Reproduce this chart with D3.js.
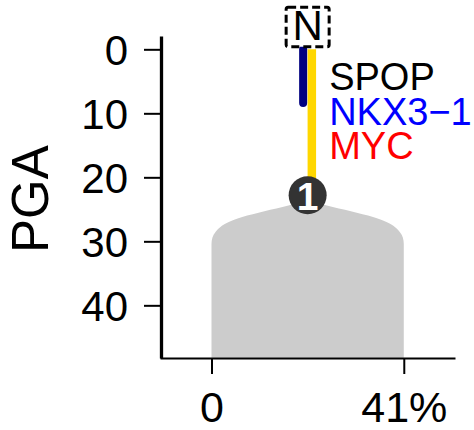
<!DOCTYPE html>
<html>
<head>
<meta charset="utf-8">
<script src="https://cdn.jsdelivr.net/npm/d3@7"></script>
<style>
  html, body { margin: 0; padding: 0; background: #fff; }
  svg { display: block; font-family: "Liberation Sans", Arial, sans-serif; }
</style>
</head>
<body>
<svg id="chart" width="474" height="430"></svg>
<script>
// ---- data ----
const yTicks = [0, 10, 20, 30, 40];
const xTicks = [0, 41];
const yLabel = "PGA";
// Gray density profile: PGA level and relative width (0..1)
const profilePGA   = [23.6, 24.4, 25.3, 26.2, 27.0, 27.8, 28.6, 29.4, 30.4, 35, 48.2];
const profileWidth = [0.00, 0.20, 0.45, 0.68, 0.82, 0.91, 0.96, 0.99, 1.00, 1.00, 1.00];
const profileRange = [0, 41];            // percent extent of the shape
// Driver event lines (PGA start / end)
const trunkGenes  = ["SPOP", "NKX3\u22121", "MYC"];
const geneColors  = ["#000000", "#0000ff", "#ff0000"];
const spopLine    = [0, 8.4];
const trunkLine   = [0, 22.8];
const cloneLabel  = "1";
const clonePGA    = 22.8;
const rootLabel   = "N";

// ---- layout ----
const svg = d3.select("#chart");
const y = d3.scaleLinear().domain([-2.08, 48.23]).range([36, 358]);
const x = d3.scaleLinear().domain([-10.98, 51.92]).range([160, 455]);
const font = "Liberation Sans, Arial, sans-serif";

// gray shape
const center = (profileRange[0] + profileRange[1]) / 2;
const half = (profileRange[1] - profileRange[0]) / 2;
const prof = profilePGA.map((p, i) => ({p, w: profileWidth[i]}));
const area = d3.area()
  .y(d => y(d.p))
  .x0(d => x(center - half * d.w))
  .x1(d => x(center + half * d.w))
  .curve(d3.curveMonotoneY);
svg.append("path").datum(prof).attr("d", area).attr("fill", "#cccccc");

// axes
const yAxis = svg.append("g").attr("transform", `translate(${x.range()[0] + 1},0)`)
  .call(d3.axisLeft(y).tickValues(yTicks).tickSize(17).tickSizeOuter(0).tickPadding(16));
yAxis.select(".domain").attr("stroke-width", 3.3);
yAxis.selectAll(".tick line").attr("stroke-width", 2);
yAxis.selectAll(".tick text").attr("font-size", 42).attr("font-family", font).attr("fill", "#000").attr("dy", "0.36em");

const xAxis = svg.append("g").attr("transform", `translate(0,${y.range()[1]})`)
  .call(d3.axisBottom(x).tickValues(xTicks).tickSize(16).tickSizeOuter(0).tickPadding(17)
    .tickFormat(d => d === 0 ? "0" : d + "%"));
xAxis.select(".domain").attr("stroke-width", 2);
xAxis.selectAll(".tick line").attr("stroke-width", 2);
xAxis.selectAll(".tick text").attr("font-size", 43).attr("font-family", font).attr("fill", "#000").attr("dy", "0.72em");

// y label
svg.append("text")
  .attr("transform", `translate(48,${y(23.4)}) rotate(-90)`)
  .attr("text-anchor", "middle")
  .attr("font-size", 51).attr("font-family", font)
  .text(yLabel);

// trunk lines
const cx = x(center);
svg.append("line")
  .attr("x1", cx + 4.2).attr("x2", cx + 4.2)
  .attr("y1", y(trunkLine[0])).attr("y2", y(trunkLine[1]))
  .attr("stroke", "#ffd700").attr("stroke-width", 8.5);
svg.append("line")
  .attr("x1", cx - 4.5).attr("x2", cx - 4.5)
  .attr("y1", y(spopLine[0])).attr("y2", y(spopLine[1]))
  .attr("stroke", "#000080").attr("stroke-width", 8).attr("stroke-linecap", "round");

// clone node
svg.append("circle").attr("cx", cx).attr("cy", y(clonePGA)).attr("r", 19).attr("fill", "#333333");
svg.append("text").attr("x", cx).attr("y", y(clonePGA) + 15)
  .attr("text-anchor", "middle").attr("font-size", 39).attr("font-family", font)
  .attr("font-weight", "bold")
  .attr("fill", "#fff").text(cloneLabel);

// root box
svg.append("rect")
  .attr("x", cx - 21.5).attr("y", y(0) - 42).attr("width", 43).attr("height", 39.5)
  .attr("fill", "#fff").attr("stroke", "#000").attr("stroke-width", 3)
  .attr("stroke-dasharray", "8,4").attr("rx", 2);
svg.append("text").attr("x", cx).attr("y", y(0) - 9)
  .attr("text-anchor", "middle").attr("font-size", 42).attr("font-family", font)
  .text(rootLabel);

// gene labels
svg.selectAll("text.gene").data(trunkGenes).enter().append("text")
  .attr("class", "gene")
  .attr("x", cx + 21.5)
  .attr("y", (d, i) => 90 + i * 34.7)
  .attr("font-size", 38).attr("font-family", font)
  .attr("fill", (d, i) => geneColors[i])
  .text(d => d);
</script>
</body>
</html>
